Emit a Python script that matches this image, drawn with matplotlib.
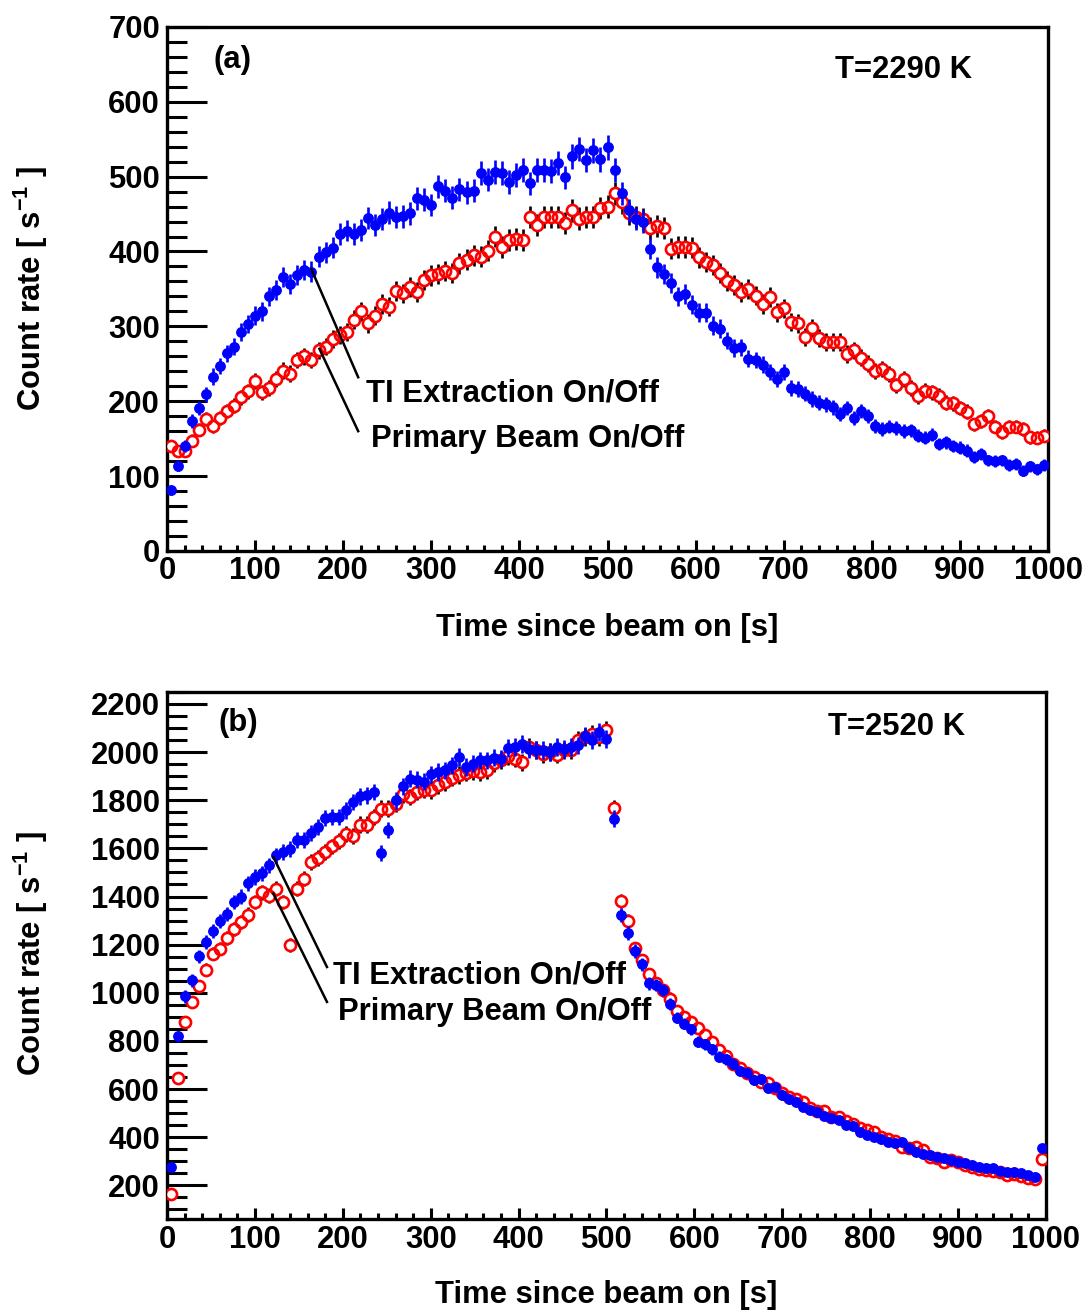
import numpy as np
import matplotlib.pyplot as plt
from matplotlib.ticker import MultipleLocator

plt.rcParams['font.family'] = ['Liberation Sans', 'DejaVu Sans']
plt.rcParams['font.weight'] = 'bold'
plt.rcParams['mathtext.fontset'] = 'custom'
plt.rcParams['mathtext.rm'] = 'Liberation Sans:bold'
plt.rcParams['mathtext.bf'] = 'Liberation Sans:bold'
plt.rcParams['mathtext.default'] = 'bf'

# 8 s time bins, centres at 4, 12, ..., 996 s
bin_width = 8
time_s = np.arange(125) * bin_width + bin_width / 2

# panel (a), T = 2290 K  -- count rates in 1/s
rate_a_extraction = np.array([
    81, 114, 140, 174, 191, 209, 233, 247, 264, 273, 292, 303, 314, 320, 340, 349,
    366, 357, 369, 375, 373, 393, 399, 405, 423, 428, 423, 429, 445, 435, 443, 452,
    446, 447, 451, 471, 469, 462, 487, 481, 472, 483, 479, 481, 505, 496, 506, 505,
    493, 502, 509, 491, 509, 509, 507, 518, 499, 527, 537, 522, 535, 523, 539, 509,
    478, 455, 443, 440, 404, 379, 370, 358, 340, 343, 329, 318, 318, 301, 297, 281,
    271, 272, 257, 255, 249, 239, 230, 239, 218, 216, 210, 203, 198, 196, 192, 183,
    191, 177, 187, 180, 167, 163, 166, 164, 160, 161, 154, 151, 155, 143, 145, 140,
    138, 134, 125, 129, 121, 120, 121, 115, 116, 107, 113, 109, 115])
rate_a_beam = np.array([
    140, 133, 134, 147, 162, 176, 167, 177, 187, 194, 205, 213, 227, 212, 218, 230,
    241, 237, 255, 260, 255, 268, 273, 283, 289, 293, 309, 320, 304, 314, 330, 326,
    347, 344, 352, 346, 362, 368, 370, 374, 371, 384, 389, 395, 393, 401, 420, 406,
    415, 417, 415, 446, 435, 446, 446, 446, 438, 455, 444, 446, 446, 458, 460, 478,
    466, 451, 446, 443, 431, 434, 432, 404, 406, 406, 405, 392, 386, 382, 371, 361,
    355, 346, 350, 341, 330, 339, 319, 324, 306, 304, 286, 298, 285, 279, 279, 279,
    263, 268, 258, 250, 240, 243, 236, 221, 230, 218, 207, 214, 212, 207, 198, 197,
    191, 186, 169, 173, 180, 166, 159, 166, 166, 163, 152, 151, 154])

# panel (b), T = 2520 K
rate_b_extraction = np.array([
    278, 819, 985, 1051, 1151, 1211, 1256, 1298, 1328, 1377, 1400, 1456, 1481, 1497,
    1529, 1571, 1585, 1598, 1633, 1633, 1663, 1688, 1727, 1730, 1730, 1758, 1792, 1816,
    1820, 1834, 1580, 1675, 1800, 1858, 1890, 1886, 1876, 1907, 1917, 1924, 1945, 1979,
    1938, 1952, 1966, 1966, 1977, 1973, 2018, 2020, 2035, 2011, 2010, 2010, 2000, 2020,
    2014, 2020, 2028, 2069, 2049, 2083, 2056, 1724, 1322, 1250, 1174, 1119, 1039, 1032,
    1011, 953, 897, 872, 848, 796, 787, 766, 734, 723, 706, 676, 665, 637, 640, 603,
    607, 575, 557, 547, 526, 513, 506, 488, 478, 471, 450, 446, 423, 409, 402, 391,
    381, 377, 381, 354, 340, 330, 326, 316, 312, 305, 298, 291, 284, 277, 271, 271,
    261, 256, 256, 250, 243, 236, 355])
rate_b_beam = np.array([
    165, 647, 878, 961, 1027, 1096, 1162, 1183, 1229, 1266, 1294, 1325, 1377, 1418,
    1404, 1432, 1377, 1199, 1432, 1473, 1543, 1561, 1585, 1608, 1630, 1661, 1650, 1699,
    1699, 1730, 1765, 1765, 1786, 1824, 1813, 1834, 1844, 1841, 1862, 1875, 1894, 1905,
    1915, 1921, 1917, 1924, 1954, 1966, 1982, 1973, 1958, 2020, 2010, 1993, 2000, 1990,
    2007, 2010, 2049, 2062, 2076, 2062, 2090, 1767, 1381, 1298, 1184, 1135, 1077, 1040,
    1010, 976, 925, 900, 879, 852, 824, 796, 762, 737, 706, 686, 665, 651, 630, 626,
    603, 585, 568, 557, 547, 520, 510, 510, 485, 482, 468, 455, 437, 430, 423, 399,
    391, 385, 360, 354, 360, 347, 319, 312, 298, 307, 298, 284, 277, 266, 264, 261,
    256, 243, 247, 239, 229, 227, 308])

# effective counting time per bin, used for the Poisson error bars
live_time_a = 2.0
live_time_b = 1.5


def draw_panel(ax, extraction, beam, live_time):
    err_extr = np.sqrt(extraction / live_time)
    err_beam = np.sqrt(beam / live_time)
    # primary beam on/off: open red circles, black error bars
    ax.errorbar(time_s, beam, yerr=err_beam, fmt='none', ecolor='black',
                elinewidth=1.9, capsize=0, zorder=2)
    ax.plot(time_s, beam, 'o', ms=8, mfc='white', mec='none', zorder=3)
    ax.plot(time_s, beam, 'o', ms=8, mfc='none', mec='red', mew=1.9, zorder=4)
    # TI extraction on/off: filled blue circles
    ax.errorbar(time_s, extraction, yerr=err_extr, fmt='o', color='blue', ms=6.8,
                elinewidth=1.9, capsize=0, zorder=5)

    ax.set_xlim(0, 1000)
    ax.xaxis.set_major_locator(MultipleLocator(100))
    ax.xaxis.set_minor_locator(MultipleLocator(20))
    ax.tick_params(which='both', direction='in', top=False, right=False,
                   labelsize=22.3, width=2.2)
    ax.tick_params(axis='y', which='major', length=29, pad=5)
    ax.tick_params(axis='y', which='minor', length=14.5)
    ax.tick_params(axis='x', which='major', length=8, pad=4)
    ax.tick_params(axis='x', which='minor', length=4)
    for sp in ax.spines.values():
        sp.set_linewidth(2.4)

    ax.set_xlabel('Time since beam on [s]', fontsize=22.3, fontweight='bold')
    ax.set_ylabel(r'Count rate [ s$^{-1}$ ]', fontsize=22.3, fontweight='bold')
    ax.xaxis.label.set_va('center')
    ax.yaxis.label.set_va('center')


fig = plt.figure(figsize=(10.83, 13.13), dpi=100)

# panel (a)
ax1 = fig.add_axes([0.1542, 0.5804, 0.8135, 0.3991])
draw_panel(ax1, rate_a_extraction, rate_a_beam, live_time_a)
ax1.set_ylim(0, 700)
ax1.yaxis.set_major_locator(MultipleLocator(100))
ax1.yaxis.set_minor_locator(MultipleLocator(20))
ax1.xaxis.set_label_coords(0.5, -0.147)
ax1.yaxis.set_label_coords(-0.155, 0.50)
ax1.text(53, 656, '(a)', fontsize=22.3, fontweight='bold', va='center')
ax1.text(758, 642, 'T=2290 K', fontsize=22.3, fontweight='bold', va='center')
ax1.plot([164, 217], [376, 232], color='black', lw=1.8, zorder=6)
ax1.plot([173, 217], [270, 160], color='black', lw=1.8, zorder=6)
ax1.text(226, 210, 'TI Extraction On/Off', fontsize=22.3, fontweight='bold', va='center')
ax1.text(232, 150, 'Primary Beam On/Off', fontsize=22.3, fontweight='bold', va='center')

# panel (b)
ax2 = fig.add_axes([0.1542, 0.0716, 0.8116, 0.4014])
draw_panel(ax2, rate_b_extraction, rate_b_beam, live_time_b)
ax2.set_ylim(60, 2250)
ax2.yaxis.set_major_locator(MultipleLocator(200))
ax2.yaxis.set_minor_locator(MultipleLocator(50))
ax2.xaxis.set_label_coords(0.5, -0.144)
ax2.yaxis.set_label_coords(-0.155, 0.503)
ax2.text(59, 2123, '(b)', fontsize=22.3, fontweight='bold', va='center')
ax2.text(752, 2103, 'T=2520 K', fontsize=22.3, fontweight='bold', va='center')
ax2.plot([121, 182], [1564, 1107], color='black', lw=1.8, zorder=6)
ax2.plot([121, 182], [1412, 962], color='black', lw=1.8, zorder=6)
ax2.text(189, 1073, 'TI Extraction On/Off', fontsize=22.3, fontweight='bold', va='center')
ax2.text(195, 920, 'Primary Beam On/Off', fontsize=22.3, fontweight='bold', va='center')

fig.savefig('out.png', dpi=100)
